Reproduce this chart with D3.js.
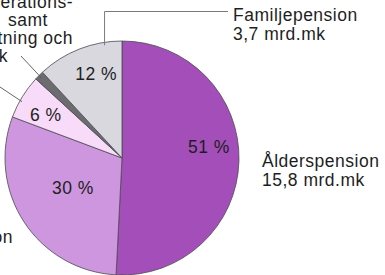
<!DOCTYPE html>
<html>
<head>
<meta charset="utf-8">
<script src="https://cdn.jsdelivr.net/npm/d3@7"></script>
<style>
  body { margin: 0; background: #fff; }
  svg text { font-family: "Liberation Sans", Arial, sans-serif; fill: #1e1e1e; }
</style>
</head>
<body>
<div id="chart"></div>
<script>
// slices, clockwise from 12 o'clock (mrd.mk)
var names = ["Ålderspension", "Invaliditetspension", "Arbetslöshetspension", "Övrigt", "Familjepension"];
var amounts = [15.8, 9.3, 1.9, 0.4, 3.7];
var pctLabels = ["51 %", "30 %", "6 %", "", "12 %"];
var colors = ["#a44fb9", "#cd96df", "#f7dbf8", "#6b6b70", "#d8d8de"];

var svgWidth = 385;
var svgHeight = 275;

var cx = 122, cy = 158, radius = 117;
var fontSize = "17.5px";

var svg = d3.select("#chart")
  .append("svg")
  .attr("width", svgWidth)
  .attr("height", svgHeight);

var pieGroup = svg.append("g")
  .attr("transform", `translate(${cx}, ${cy})`);

var pie = d3.pie().sort(null).value(d => d);
var arcs = pie(amounts);

var arc = d3.arc().innerRadius(0).outerRadius(radius);

pieGroup.selectAll("path")
  .data(arcs)
  .enter()
  .append("path")
  .attr("d", arc)
  .attr("fill", (d, i) => colors[i])
  .attr("stroke", "#4a4a50")
  .attr("stroke-width", 0.8);

// where inside each slice the percent sits: [fraction of the slice's angle, fraction of radius]
var pctPlace = [[0.45, 0.75], [0.52, 0.49], [0.42, 0.75], [0.5, 0.5], [0.6, 0.75]];
function polar(d, f, rf) {
  var a = d.startAngle + (d.endAngle - d.startAngle) * f;
  return [radius * rf * Math.sin(a), -radius * rf * Math.cos(a)];
}

pieGroup.selectAll("text.pct")
  .data(arcs)
  .enter()
  .append("text")
  .attr("class", "pct")
  .attr("x", (d, i) => polar(d, pctPlace[i][0], pctPlace[i][1])[0])
  .attr("y", (d, i) => polar(d, pctPlace[i][0], pctPlace[i][1])[1])
  .attr("dy", "0.36em")
  .attr("text-anchor", "middle")
  .style("font-size", fontSize)
  .style("letter-spacing", "0.5px")
  .text((d, i) => pctLabels[i]);

// leader lines
function edgePoint(i, frac) {
  var p = polar(arcs[i], frac, 1);
  return [cx + p[0], cy + p[1]];
}

// Familjepension
var famEdge = edgePoint(4, 0.8);
svg.append("polyline")
  .attr("points", `${famEdge[0]},${famEdge[1] + 3} ${famEdge[0]},11.5 228,11.5`)
  .attr("fill", "none")
  .attr("stroke", "#7a7a7a")
  .attr("stroke-width", 1);

// small dark slice
var smallEdge = edgePoint(3, 0.5);
svg.append("line")
  .attr("x1", 21).attr("y1", 56)
  .attr("x2", smallEdge[0] + 2).attr("y2", smallEdge[1] + 2)
  .attr("stroke", "#555")
  .attr("stroke-width", 0.9);

// 6 % slice
var sixEdge = edgePoint(2, 0.4);
svg.append("line")
  .attr("x1", 0).attr("y1", 87)
  .attr("x2", sixEdge[0] + 2).attr("y2", sixEdge[1] + 1)
  .attr("stroke", "#555")
  .attr("stroke-width", 0.9);

// outside labels
function block(lines, x, y, anchor) {
  var t = svg.append("text")
    .attr("x", x)
    .attr("y", y)
    .attr("text-anchor", anchor)
    .style("font-size", fontSize)
    .style("letter-spacing", "0.5px");
  lines.forEach(function (s, k) {
    t.append("tspan").attr("x", x).attr("dy", k === 0 ? 0 : 19).text(s);
  });
}

block(["Familjepension", "3,7 mrd.mk"], 233, 21, "start");
block(["Ålderspension", "15,8 mrd.mk"], 262, 167, "start");
block(["Invaliditetspension"], 13, 243, "end");

// cut-off label at top left, each line right-aligned to where it ends
var tl = [["Invaliditets- och rehabiliterations-", 73, 8],
          ["samt", 48, 26],
          ["rehabiliteringsersättning och", 73, 44],
          ["0,4 mrd.mk", 8, 62]];
tl.forEach(function (r) {
  svg.append("text")
    .attr("x", r[1]).attr("y", r[2])
    .attr("text-anchor", "end")
    .style("font-size", fontSize)
    .style("letter-spacing", "0.5px")
    .text(r[0]);
});
</script>
</body>
</html>
